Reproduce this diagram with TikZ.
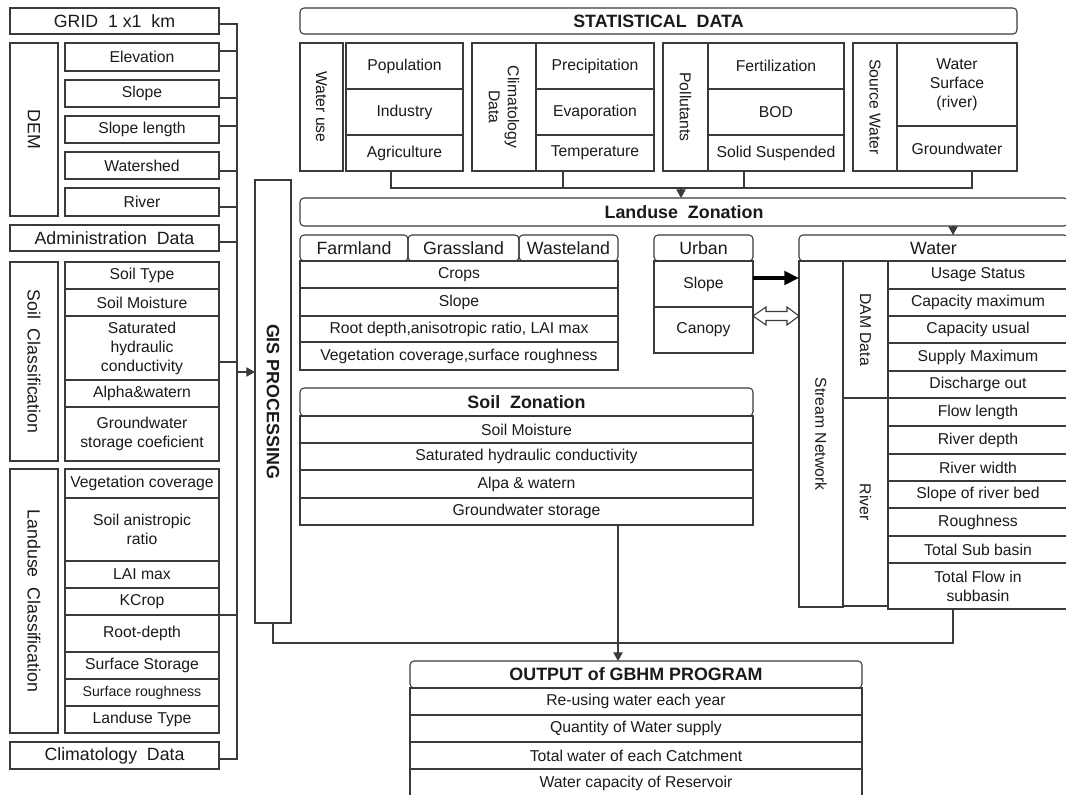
\documentclass[tikz,border=0pt]{standalone}
\usepackage{fontspec}
\setmainfont{Liberation Sans}
\usetikzlibrary{arrows.meta,calc}
\definecolor{ln}{HTML}{3A3A3A}
\definecolor{tx}{HTML}{1A1A1A}
\newcommand{\fs}{\fontsize{11.8}{14.3}\selectfont}
\newcommand{\fxs}{\fontsize{10.6}{12.5}\selectfont}
\newcommand{\fl}{\fontsize{13.3}{15}\selectfont}
\newcommand{\fb}{\fontsize{13.4}{15}\selectfont\bfseries}
% box: [opts]{name}{x1}{y1}{x2}{y2}{text}
\newcommand{\bx}[7][]{\node[box,#1,minimum width={(#5-#3)*0.75pt},minimum height={(#6-#4)*0.75pt}] (#2) at ({(#3+#5)/2},{(#4+#6)/2}) {#7};}
\newcommand{\vbx}[7][]{\node[box,minimum width={(#5-#3)*0.75pt},minimum height={(#6-#4)*0.75pt}] (#2) at ({(#3+#5)/2},{(#4+#6)/2}) {};
  \node[vtext,#1] (#2t) at (#2.center) {#7};}
\begin{document}
\begin{tikzpicture}[x=0.75pt,y=-0.75pt,
  box/.style={draw=ln,line width=0.8pt,inner sep=0pt,outer sep=0pt,align=center,text=tx,font=\fs},
  hdr/.style={rounded corners=3pt},
  vtext/.style={rotate=-90,align=center,text=tx,inner sep=0pt,font=\fs},
  conn/.style={draw=ln,line width=0.8pt},
  arr/.style={conn,-{Triangle[length=6.5pt,width=7pt]}},
]
\useasboundingbox (0,0) rectangle (1066,795);

% ---------- left column ----------
\bx[font=\fl]{grid}{10}{8}{219}{34}{GRID~ 1 x1~ km}
\vbx[font=\fl]{dem}{10}{43}{58}{216}{DEM}
\bx{elev}{65}{43}{219}{71}{Elevation}
\bx{slope}{65}{80}{219}{107}{Slope}
\bx{slen}{65}{116}{219}{143}{Slope length}
\bx{wshed}{65}{152}{219}{179}{Watershed}
\bx{river}{65}{188}{219}{216}{River}
\bx[font=\fl]{admin}{10}{225}{219}{251}{Administration~ Data}
\vbx[font=\fl]{soilc}{10}{262}{58}{461}{Soil~ Classification}
\bx{stype}{65}{262}{219}{289}{Soil Type}
\bx{smoist}{65}{289}{219}{316}{Soil Moisture}
\bx{sathc}{65}{316}{219}{380}{Saturated\\hydraulic\\conductivity}
\bx{alpha}{65}{380}{219}{407}{Alpha\&watern}
\bx{gwsc}{65}{407}{219}{461}{Groundwater\\storage coeficient}
\vbx[font=\fl]{luc}{10}{469}{58}{733}{Landuse~ Classification}
\bx{vegc}{65}{469}{219}{498}{Vegetation coverage}
\bx{sanis}{65}{498}{219}{561}{Soil anistropic\\ratio}
\bx{laimax}{65}{561}{219}{588}{LAI max}
\bx{kcrop}{65}{588}{219}{615}{KCrop}
\bx{rootd}{65}{615}{219}{652}{Root-depth}
\bx{surfst}{65}{652}{219}{679}{Surface Storage}
\bx[font=\fxs]{surfr}{65}{679}{219}{706}{Surface roughness}
\bx{lutype}{65}{706}{219}{733}{Landuse Type}
\bx[font=\fl]{clim}{10}{742}{219}{769}{Climatology~ Data}

% GIS
\vbx[font=\fb]{gis}{255}{180}{291}{623}{GIS PROCESSING}

% ---------- statistical ----------
\bx[hdr,font=\fb]{stat}{300}{8}{1017}{34}{STATISTICAL~ DATA}
\vbx{wuse}{300}{43}{343}{171}{Water use}
\bx{pop}{346}{43}{463}{89}{Population}
\bx{ind}{346}{89}{463}{135}{Industry}
\bx{agri}{346}{135}{463}{171}{Agriculture}
\vbx{climd}{472}{43}{536}{171}{Climatology\\Data}
\bx{prec}{536}{43}{654}{89}{Precipitation}
\bx{evap}{536}{89}{654}{135}{Evaporation}
\bx{temp}{536}{135}{654}{171}{Temperature}
\vbx{poll}{663}{43}{708}{171}{Pollutants}
\bx{fert}{708}{43}{844}{89}{Fertilization}
\bx{bod}{708}{89}{844}{135}{BOD}
\bx{solid}{708}{135}{844}{171}{Solid Suspended}
\vbx{srcw}{853}{43}{897}{171}{Source Water}
\bx{wsurf}{897}{43}{1017}{126}{Water\\Surface\\(river)}
\bx{gw}{897}{126}{1017}{171}{Groundwater}

% ---------- landuse zonation ----------
\bx[hdr,font=\fb]{luz}{300}{198}{1068}{226}{Landuse~ Zonation}
\bx[hdr,font=\fl]{farm}{300}{235}{408}{261}{Farmland}
\bx[hdr,font=\fl]{grass}{408}{235}{519}{261}{Grassland}
\bx[hdr,font=\fl]{waste}{519}{235}{618}{261}{Wasteland}
\bx{crops}{300}{261}{618}{288}{Crops}
\bx{lslope}{300}{288}{618}{316}{Slope}
\bx{lroot}{300}{316}{618}{342}{Root depth,anisotropic ratio, LAI max}
\bx{lveg}{300}{342}{618}{370}{Vegetation coverage,surface roughness}

\bx[hdr,font=\fl]{urban}{654}{235}{753}{261}{Urban}
\bx{uslope}{654}{261}{753}{307}{Slope}
\bx{canopy}{654}{307}{753}{353}{Canopy}

% ---------- soil zonation ----------
\bx[hdr,font=\fb]{soilz}{300}{388}{753}{416}{Soil~ Zonation}
\bx{szm}{300}{416}{753}{443}{Soil Moisture}
\bx{szsat}{300}{443}{753}{470}{Saturated hydraulic conductivity}
\bx{szalpa}{300}{470}{753}{498}{Alpa \& watern}
\bx{szgw}{300}{498}{753}{525}{Groundwater storage}

% ---------- water ----------
\bx[hdr,font=\fl]{water}{799}{235}{1068}{261}{Water}
\vbx{stream}{799}{261}{843}{607}{Stream Network}
\vbx{dam}{843}{261}{888}{398}{DAM Data}
\vbx{wriver}{843}{398}{888}{606}{River}
\bx{usage}{888}{261}{1068}{289}{Usage Status}
\bx{capmax}{888}{289}{1068}{316}{Capacity maximum}
\bx{capus}{888}{316}{1068}{343}{Capacity usual}
\bx{supmax}{888}{343}{1068}{371}{Supply Maximum}
\bx{disch}{888}{371}{1068}{398}{Discharge out}
\bx{flowl}{888}{398}{1068}{426}{Flow length}
\bx{rdepth}{888}{426}{1068}{454}{River depth}
\bx{rwidth}{888}{454}{1068}{481}{River width}
\bx{rbed}{888}{481}{1068}{508}{Slope of river bed}
\bx{rough}{888}{508}{1068}{536}{Roughness}
\bx{tsub}{888}{536}{1068}{563}{Total Sub basin}
\bx{tflow}{888}{563}{1068}{609}{Total Flow in\\subbasin}

% ---------- output ----------
\bx[hdr,font=\fb]{out}{410}{661}{862}{688}{OUTPUT of GBHM PROGRAM}
\bx{o1}{410}{688}{862}{715}{Re-using water each year}
\bx{o2}{410}{715}{862}{742}{Quantity of Water supply}
\bx{o3}{410}{742}{862}{769}{Total water of each Catchment}
\bx{o4}{410}{769}{862}{797}{Water capacity of Reservoir}

% ---------- connectors ----------
\coordinate (busT) at (237,24);
\coordinate (busB) at (237,759);
\coordinate (gisin) at (237,372);
\draw[conn] (grid.east|-busT) -- (busT) -- (busB) -- (clim.east|-busB);
\foreach \n/\y in {elev/51,slope/98,slen/126,wshed/171,river/207,admin/242,sathc/362,kcrop/615}
  \draw[conn] (\n.east|-0,\y) -- (237,\y);
\draw[arr] (gisin) -- (gis.west|-gisin);

\draw[conn] (gis.south) -- (273,643) -- (953,643) -- (953,0|-tflow.south);
\draw[arr] (618,0|-szgw.south) -- (618,0|-out.north);

\draw[conn] (391,0|-agri.south) -- (391,188) -- (972,188) -- (972,0|-gw.south);
\draw[conn] (563,0|-temp.south) -- (563,188);
\draw[conn] (744,0|-solid.south) -- (744,188);
\draw[arr] (681,188) -- (681,0|-luz.north);
\draw[arr] (953,0|-luz.south) -- (953,0|-water.north);

\draw[line width=3pt,draw=black,-{Triangle[length=11pt,width=10pt]}] (uslope.east|-0,278) -- (stream.west|-0,278);
\draw[conn,fill=white,line join=miter] (canopy.east|-0,316) -- (766,307) -- (766,311.5) -- (787,311.5) -- (787,307)
  -- (stream.west|-0,316) -- (787,325) -- (787,320.5) -- (766,320.5) -- (766,325) -- cycle;
\end{tikzpicture}
\end{document}
